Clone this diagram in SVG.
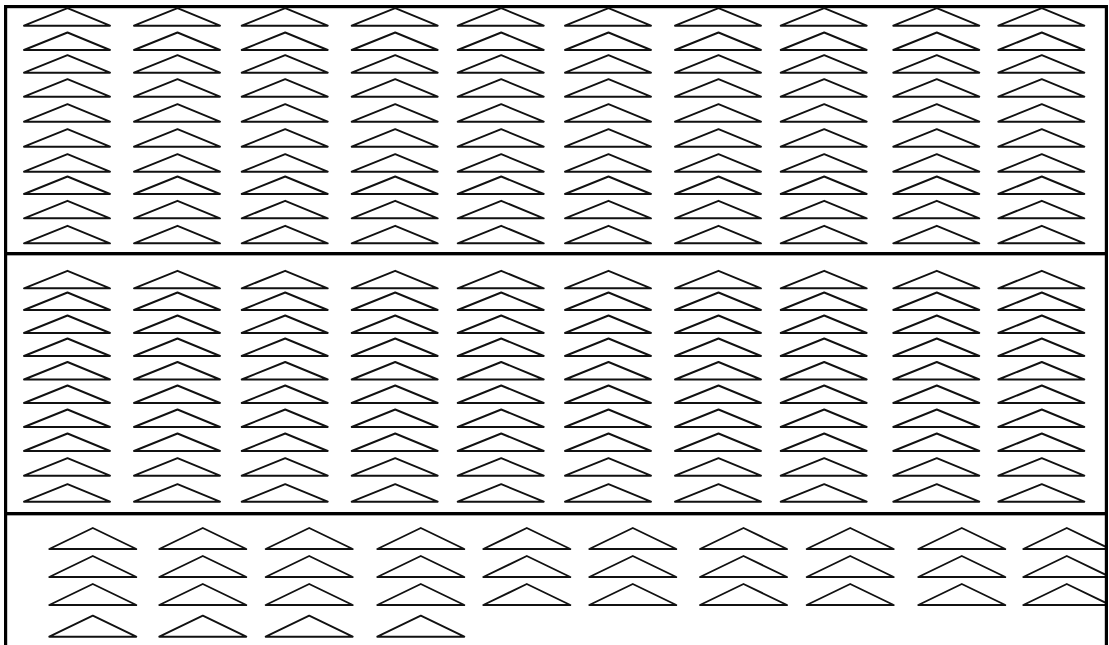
<svg xmlns="http://www.w3.org/2000/svg" xmlns:xlink="http://www.w3.org/1999/xlink" width="1109" height="645" viewBox="0 0 1109 645">
<style>
.box{fill:none;stroke:#000;stroke-width:3.2}
.tri{fill:#fff;stroke:#111;stroke-width:1.9;stroke-linejoin:round}
</style>
<defs>
<path id="ta" class="tri" d="M0,17.5 L43.5,0 L86,17.5 Z"/>
<path id="tb" class="tri" d="M0,21 L43.5,0 L87,21 Z"/>
</defs>
<rect width="1109" height="645" fill="#fff"/>
<g id="box-top">
<rect class="box" x="5.6" y="6.6" width="1100.8" height="247"/>
<g id="top-row1" transform="translate(0,8.2)"><use href="#ta" x="24"/><use href="#ta" x="134"/><use href="#ta" x="241.7"/><use href="#ta" x="351.7"/><use href="#ta" x="457.7"/><use href="#ta" x="565"/><use href="#ta" x="675"/><use href="#ta" x="780.7"/><use href="#ta" x="893.3"/><use href="#ta" x="998.3"/></g>
<g id="top-row2" transform="translate(0,32.5)"><use href="#ta" x="24"/><use href="#ta" x="134"/><use href="#ta" x="241.7"/><use href="#ta" x="351.7"/><use href="#ta" x="457.7"/><use href="#ta" x="565"/><use href="#ta" x="675"/><use href="#ta" x="780.7"/><use href="#ta" x="893.3"/><use href="#ta" x="998.3"/></g>
<g id="top-row3" transform="translate(0,55.2)"><use href="#ta" x="24"/><use href="#ta" x="134"/><use href="#ta" x="241.7"/><use href="#ta" x="351.7"/><use href="#ta" x="457.7"/><use href="#ta" x="565"/><use href="#ta" x="675"/><use href="#ta" x="780.7"/><use href="#ta" x="893.3"/><use href="#ta" x="998.3"/></g>
<g id="top-row4" transform="translate(0,79.2)"><use href="#ta" x="24"/><use href="#ta" x="134"/><use href="#ta" x="241.7"/><use href="#ta" x="351.7"/><use href="#ta" x="457.7"/><use href="#ta" x="565"/><use href="#ta" x="675"/><use href="#ta" x="780.7"/><use href="#ta" x="893.3"/><use href="#ta" x="998.3"/></g>
<g id="top-row5" transform="translate(0,104.2)"><use href="#ta" x="24"/><use href="#ta" x="134"/><use href="#ta" x="241.7"/><use href="#ta" x="351.7"/><use href="#ta" x="457.7"/><use href="#ta" x="565"/><use href="#ta" x="675"/><use href="#ta" x="780.7"/><use href="#ta" x="893.3"/><use href="#ta" x="998.3"/></g>
<g id="top-row6" transform="translate(0,129.2)"><use href="#ta" x="24"/><use href="#ta" x="134"/><use href="#ta" x="241.7"/><use href="#ta" x="351.7"/><use href="#ta" x="457.7"/><use href="#ta" x="565"/><use href="#ta" x="675"/><use href="#ta" x="780.7"/><use href="#ta" x="893.3"/><use href="#ta" x="998.3"/></g>
<g id="top-row7" transform="translate(0,154.2)"><use href="#ta" x="24"/><use href="#ta" x="134"/><use href="#ta" x="241.7"/><use href="#ta" x="351.7"/><use href="#ta" x="457.7"/><use href="#ta" x="565"/><use href="#ta" x="675"/><use href="#ta" x="780.7"/><use href="#ta" x="893.3"/><use href="#ta" x="998.3"/></g>
<g id="top-row8" transform="translate(0,176.5)"><use href="#ta" x="24"/><use href="#ta" x="134"/><use href="#ta" x="241.7"/><use href="#ta" x="351.7"/><use href="#ta" x="457.7"/><use href="#ta" x="565"/><use href="#ta" x="675"/><use href="#ta" x="780.7"/><use href="#ta" x="893.3"/><use href="#ta" x="998.3"/></g>
<g id="top-row9" transform="translate(0,200.8)"><use href="#ta" x="24"/><use href="#ta" x="134"/><use href="#ta" x="241.7"/><use href="#ta" x="351.7"/><use href="#ta" x="457.7"/><use href="#ta" x="565"/><use href="#ta" x="675"/><use href="#ta" x="780.7"/><use href="#ta" x="893.3"/><use href="#ta" x="998.3"/></g>
<g id="top-row10" transform="translate(0,225.8)"><use href="#ta" x="24"/><use href="#ta" x="134"/><use href="#ta" x="241.7"/><use href="#ta" x="351.7"/><use href="#ta" x="457.7"/><use href="#ta" x="565"/><use href="#ta" x="675"/><use href="#ta" x="780.7"/><use href="#ta" x="893.3"/><use href="#ta" x="998.3"/></g>
</g>
<g id="box-middle">
<rect class="box" x="5.6" y="253.6" width="1100.8" height="260"/>
<g id="mid-row1" transform="translate(0,270.8)"><use href="#ta" x="24"/><use href="#ta" x="134"/><use href="#ta" x="241.7"/><use href="#ta" x="351.7"/><use href="#ta" x="457.7"/><use href="#ta" x="565"/><use href="#ta" x="675"/><use href="#ta" x="780.7"/><use href="#ta" x="893.3"/><use href="#ta" x="998.3"/></g>
<g id="mid-row2" transform="translate(0,292.5)"><use href="#ta" x="24"/><use href="#ta" x="134"/><use href="#ta" x="241.7"/><use href="#ta" x="351.7"/><use href="#ta" x="457.7"/><use href="#ta" x="565"/><use href="#ta" x="675"/><use href="#ta" x="780.7"/><use href="#ta" x="893.3"/><use href="#ta" x="998.3"/></g>
<g id="mid-row3" transform="translate(0,315.5)"><use href="#ta" x="24"/><use href="#ta" x="134"/><use href="#ta" x="241.7"/><use href="#ta" x="351.7"/><use href="#ta" x="457.7"/><use href="#ta" x="565"/><use href="#ta" x="675"/><use href="#ta" x="780.7"/><use href="#ta" x="893.3"/><use href="#ta" x="998.3"/></g>
<g id="mid-row4" transform="translate(0,338.5)"><use href="#ta" x="24"/><use href="#ta" x="134"/><use href="#ta" x="241.7"/><use href="#ta" x="351.7"/><use href="#ta" x="457.7"/><use href="#ta" x="565"/><use href="#ta" x="675"/><use href="#ta" x="780.7"/><use href="#ta" x="893.3"/><use href="#ta" x="998.3"/></g>
<g id="mid-row5" transform="translate(0,362)"><use href="#ta" x="24"/><use href="#ta" x="134"/><use href="#ta" x="241.7"/><use href="#ta" x="351.7"/><use href="#ta" x="457.7"/><use href="#ta" x="565"/><use href="#ta" x="675"/><use href="#ta" x="780.7"/><use href="#ta" x="893.3"/><use href="#ta" x="998.3"/></g>
<g id="mid-row6" transform="translate(0,385.5)"><use href="#ta" x="24"/><use href="#ta" x="134"/><use href="#ta" x="241.7"/><use href="#ta" x="351.7"/><use href="#ta" x="457.7"/><use href="#ta" x="565"/><use href="#ta" x="675"/><use href="#ta" x="780.7"/><use href="#ta" x="893.3"/><use href="#ta" x="998.3"/></g>
<g id="mid-row7" transform="translate(0,409.5)"><use href="#ta" x="24"/><use href="#ta" x="134"/><use href="#ta" x="241.7"/><use href="#ta" x="351.7"/><use href="#ta" x="457.7"/><use href="#ta" x="565"/><use href="#ta" x="675"/><use href="#ta" x="780.7"/><use href="#ta" x="893.3"/><use href="#ta" x="998.3"/></g>
<g id="mid-row8" transform="translate(0,433.5)"><use href="#ta" x="24"/><use href="#ta" x="134"/><use href="#ta" x="241.7"/><use href="#ta" x="351.7"/><use href="#ta" x="457.7"/><use href="#ta" x="565"/><use href="#ta" x="675"/><use href="#ta" x="780.7"/><use href="#ta" x="893.3"/><use href="#ta" x="998.3"/></g>
<g id="mid-row9" transform="translate(0,458.2)"><use href="#ta" x="24"/><use href="#ta" x="134"/><use href="#ta" x="241.7"/><use href="#ta" x="351.7"/><use href="#ta" x="457.7"/><use href="#ta" x="565"/><use href="#ta" x="675"/><use href="#ta" x="780.7"/><use href="#ta" x="893.3"/><use href="#ta" x="998.3"/></g>
<g id="mid-row10" transform="translate(0,484.2)"><use href="#ta" x="24"/><use href="#ta" x="134"/><use href="#ta" x="241.7"/><use href="#ta" x="351.7"/><use href="#ta" x="457.7"/><use href="#ta" x="565"/><use href="#ta" x="675"/><use href="#ta" x="780.7"/><use href="#ta" x="893.3"/><use href="#ta" x="998.3"/></g>
</g>
<g id="box-bottom">
<g id="bot-row1" transform="translate(0,528)"><use href="#tb" x="49.3"/><use href="#tb" x="159.3"/><use href="#tb" x="265.7"/><use href="#tb" x="377.3"/><use href="#tb" x="483.3"/><use href="#tb" x="589.3"/><use href="#tb" x="700"/><use href="#tb" x="806.7"/><use href="#tb" x="918.3"/><use href="#tb" x="1023.3"/></g>
<g id="bot-row2" transform="translate(0,556)"><use href="#tb" x="49.3"/><use href="#tb" x="159.3"/><use href="#tb" x="265.7"/><use href="#tb" x="377.3"/><use href="#tb" x="483.3"/><use href="#tb" x="589.3"/><use href="#tb" x="700"/><use href="#tb" x="806.7"/><use href="#tb" x="918.3"/><use href="#tb" x="1023.3"/></g>
<g id="bot-row3" transform="translate(0,584)"><use href="#tb" x="49.3"/><use href="#tb" x="159.3"/><use href="#tb" x="265.7"/><use href="#tb" x="377.3"/><use href="#tb" x="483.3"/><use href="#tb" x="589.3"/><use href="#tb" x="700"/><use href="#tb" x="806.7"/><use href="#tb" x="918.3"/><use href="#tb" x="1023.3"/></g>
<g id="bot-row4" transform="translate(0,615.7)"><use href="#tb" x="49.3"/><use href="#tb" x="159.3"/><use href="#tb" x="265.7"/><use href="#tb" x="377.3"/></g>
<rect fill="#fff" x="1107" y="515" width="2" height="130"/>
<rect class="box" x="5.6" y="513.6" width="1100.8" height="140"/>
</g>
</svg>
